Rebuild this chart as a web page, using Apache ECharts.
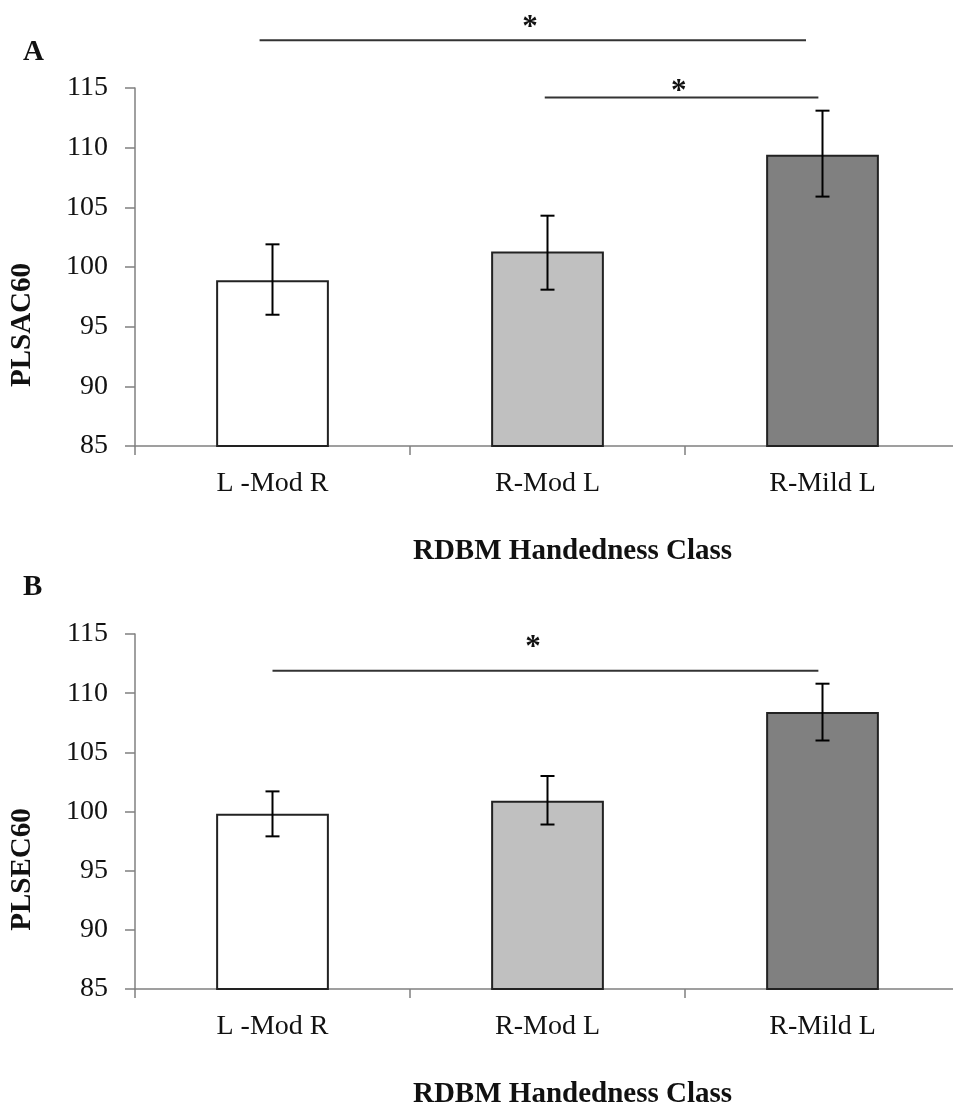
<!DOCTYPE html>
<html>
<head>
<meta charset="utf-8">
<script src="https://cdn.jsdelivr.net/npm/echarts@6/dist/echarts.min.js"></script>
<style>
html,body{margin:0;padding:0;background:#fff;overflow:hidden;}
#chart{width:975px;height:1110px;}
</style>
</head>
<body>
<div id="chart"></div>
<script>
// ---- data ----
var categories = ['L -Mod R', 'R-Mod L', 'R-Mild L'];
var yTicks = [85, 90, 95, 100, 105, 110, 115];

var meanA = [98.9, 101.3, 109.4];
var lowA  = [96.0, 98.1, 105.9];
var highA = [101.9, 104.3, 113.1];

var meanB = [99.8, 100.9, 108.4];
var lowB  = [97.9, 98.9, 106.0];
var highB = [101.7, 103.0, 110.8];

var barColors = ['#ffffff', '#c0c0c0', '#808080'];

// significance brackets: [fromPos, toPos, lineY, starPos, starY] (category-space positions)
var sigA = [[0.453, 2.44, 119.0, 1.436, 120.7], [1.49, 2.485, 114.2, 1.977, 115.3]];
var sigB = [[0.5, 2.485, 111.9, 1.447, 114.5]];

var FONT = 'Liberation Serif';

function barData(means) {
  return means.map(function (v, i) {
    return { value: v, itemStyle: { color: barColors[i] } };
  });
}
function errData(lows, highs) {
  return lows.map(function (l, i) { return [i, l, highs[i]]; });
}
function renderErr(params, api) {
  var x = api.value(0);
  var lo = api.coord([x, api.value(1)]);
  var hi = api.coord([x, api.value(2)]);
  var half = 7;
  var st = { stroke: '#000', lineWidth: 2 };
  return {
    type: 'group',
    children: [
      { type: 'line', shape: { x1: lo[0], y1: lo[1], x2: hi[0], y2: hi[1] }, style: st },
      { type: 'line', shape: { x1: lo[0] - half, y1: lo[1], x2: lo[0] + half, y2: lo[1] }, style: st },
      { type: 'line', shape: { x1: hi[0] - half, y1: hi[1], x2: hi[0] + half, y2: hi[1] }, style: st }
    ]
  };
}
function renderSig(params, api) {
  var p1 = api.coord([api.value(0), api.value(2)]);
  var p2 = api.coord([api.value(1), api.value(2)]);
  var ps = api.coord([api.value(3), api.value(4)]);
  return {
    type: 'group',
    children: [
      { type: 'line', shape: { x1: p1[0], y1: p1[1], x2: p2[0], y2: p2[1] }, style: { stroke: '#333', lineWidth: 2 } },
      { type: 'text', x: ps[0], y: ps[1] + 8, style: { text: '*', fontFamily: FONT, fontWeight: 'bold', fontSize: 31, fill: '#111', align: 'center', verticalAlign: 'middle' } }
    ]
  };
}

function catAxis(gi, title) {
  return {
    type: 'category', gridIndex: gi, data: categories,
    boundaryGap: true,
    axisLine: { lineStyle: { color: '#808080', width: 1.5 } },
    axisTick: { show: true, length: 9, lineStyle: { color: '#808080', width: 1.5 } },
    axisLabel: { fontFamily: FONT, fontSize: 28, color: '#111', margin: 24 },
    name: title, nameLocation: 'middle', nameGap: 91,
    nameTextStyle: { fontFamily: FONT, fontSize: 29, fontWeight: 'bold', color: '#111', padding: [0, 0, 0, 50] }
  };
}
function posAxis(gi) {
  return { type: 'value', gridIndex: gi, min: 0, max: 3, show: false };
}
function valAxis(gi, title) {
  return {
    type: 'value', gridIndex: gi, min: yTicks[0], max: yTicks[yTicks.length - 1], interval: 5,
    splitLine: { show: false },
    axisLine: { show: true, lineStyle: { color: '#808080', width: 1.5 } },
    axisTick: { show: true, length: 10, lineStyle: { color: '#808080', width: 1.5 } },
    axisLabel: { fontFamily: FONT, fontSize: 28, color: '#111', margin: 27 },
    name: title, nameLocation: 'middle', nameGap: 98, nameRotate: 90,
    nameTextStyle: { fontFamily: FONT, fontSize: 29, fontWeight: 'bold', color: '#111', padding: [0, 116, 0, 0] }
  };
}

var chart = echarts.init(document.getElementById('chart'), null, { renderer: 'canvas' });
chart.setOption({
  backgroundColor: '#ffffff',
  animation: false,
  title: [
    { text: 'A', left: 18, top: 33, textStyle: { fontFamily: FONT, fontSize: 29, fontWeight: 'bold', color: '#111' } },
    { text: 'B', left: 18, top: 568, textStyle: { fontFamily: FONT, fontSize: 29, fontWeight: 'bold', color: '#111' } }
  ],
  grid: [
    { left: 133, top: 88, width: 827, height: 358 },
    { left: 133, top: 634, width: 827, height: 358 }
  ],
  xAxis: [catAxis(0, 'RDBM Handedness Class'), catAxis(1, 'RDBM Handedness Class'), posAxis(0), posAxis(1)],
  yAxis: [valAxis(0, 'PLSAC60'), valAxis(1, 'PLSEC60')],
  series: [
    { type: 'bar', xAxisIndex: 0, yAxisIndex: 0, data: barData(meanA), barCategoryGap: '59%',
      itemStyle: { borderColor: '#222', borderWidth: 2 } },
    { type: 'custom', xAxisIndex: 0, yAxisIndex: 0, data: errData(lowA, highA), renderItem: renderErr, z: 5 },
    { type: 'custom', xAxisIndex: 2, yAxisIndex: 0, data: sigA, renderItem: renderSig, clip: false, z: 5 },
    { type: 'bar', xAxisIndex: 1, yAxisIndex: 1, data: barData(meanB), barCategoryGap: '59%',
      itemStyle: { borderColor: '#222', borderWidth: 2 } },
    { type: 'custom', xAxisIndex: 1, yAxisIndex: 1, data: errData(lowB, highB), renderItem: renderErr, z: 5 },
    { type: 'custom', xAxisIndex: 3, yAxisIndex: 1, data: sigB, renderItem: renderSig, clip: false, z: 5 }
  ]
});
</script>
</body>
</html>
